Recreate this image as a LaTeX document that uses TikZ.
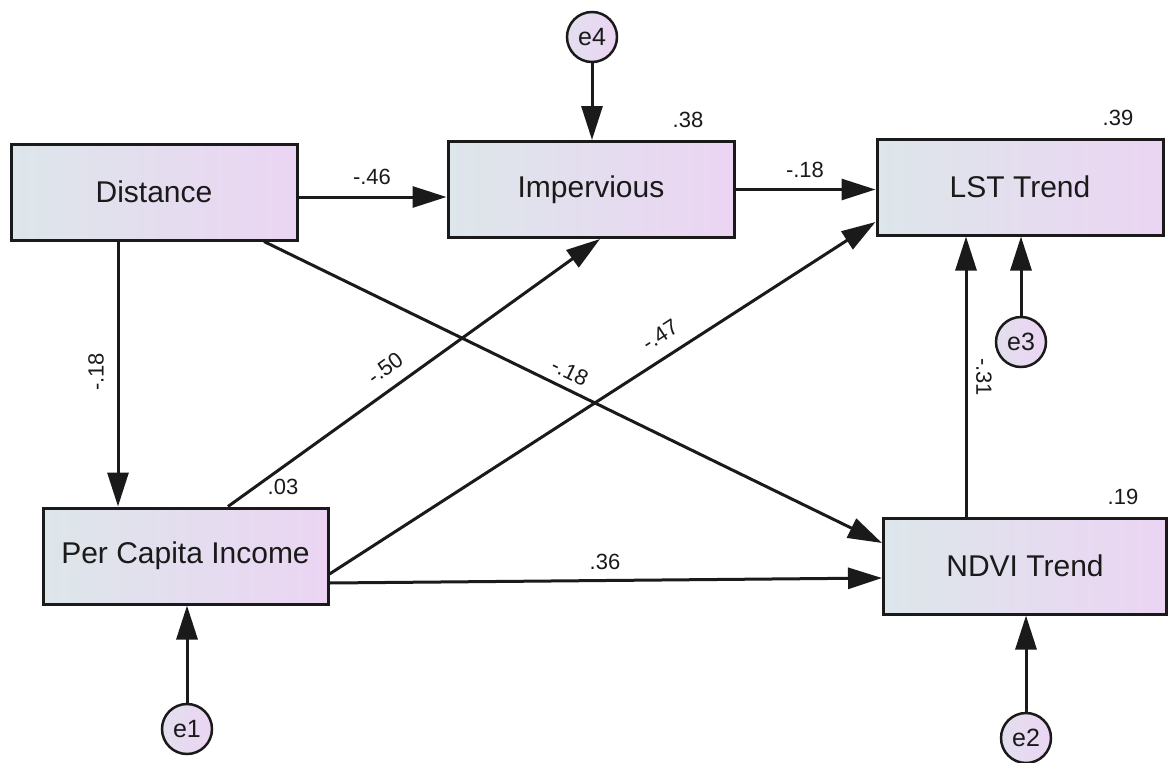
\documentclass[tikz,border=0pt]{standalone}
\usepackage{fontspec}
\setmainfont{Liberation Sans}
\usetikzlibrary{arrows.meta,calc}
\definecolor{gleft}{HTML}{DDE6EA}
\definecolor{gright}{HTML}{EBD5F3}
\definecolor{ink}{HTML}{1A1A1A}
\tikzset{
  varbox/.style={draw=ink, line width=3pt, left color=gleft, right color=gright,
    shading angle=90, minimum width=286pt, minimum height=96pt, inner sep=0pt,
    font=\fontsize{30}{36}\selectfont, text=ink},
  errc/.style={draw=ink, circle, line width=2.5pt, left color=gleft!60!gright, right color=gright,
    minimum size=50pt, inner sep=0pt, font=\fontsize{25}{30}\selectfont, text=ink},
  arr/.style={draw=ink, line width=3pt, -{Triangle[length=34pt,width=21pt]}},
  lbl/.style={font=\fontsize{22}{26}\selectfont, text=ink, inner sep=0pt},
}
\begin{document}
\begin{tikzpicture}[x=1pt,y=-1pt]
\path[use as bounding box] (0,0) rectangle (1168,763);
% variables
\node[varbox] (dist) at (154,192) {Distance};
\node[varbox] (imp) at (591,189.5) {Impervious};
\node[varbox] (lst) at (1020,187) {LST Trend};
\node[varbox, minimum width=285pt] (pci) at (185.5,556) {Per Capita Income};
\node[varbox, minimum width=283pt] (ndvi) at (1025,566) {NDVI Trend};
% errors
\node[errc] (e4) at (592,37) {e4};
\node[errc] (e3) at (1021,342) {e3};
\node[errc] (e1) at (187,729) {e1};
\node[errc] (e2) at (1026,738) {e2};
% connectors
\draw[arr] ([yshift=-5pt]dist.east) -- ([yshift=-5pt]dist.east -| imp.west);
\draw[arr] (imp.east) -- (imp.east -| lst.west);
\draw[arr] ([xshift=-36pt]dist.south) -- ([xshift=-36pt]dist.south |- pci.north);
\draw[arr] ([xshift=42.5pt]pci.north) -- ([xshift=9pt]imp.south);
\draw[arr] ([yshift=-18pt]pci.east) -- ([yshift=-35pt]lst.west);
\draw[arr] ([xshift=110pt]dist.south) -- ([yshift=23pt]ndvi.west);
\draw[arr] ([yshift=-27pt]pci.east) -- ([yshift=-12pt]ndvi.west);
\draw[arr] ([xshift=-59pt]ndvi.north) -- ([xshift=-59pt]ndvi.north |- lst.south);
\draw[arr] (e3.north) -- (e3.north |- lst.south);
\draw[arr] (e2.north) -- (e2.north |- ndvi.south);
\draw[arr] (e1.north) -- (e1.north |- pci.south);
\draw[arr] (e4.south) -- (e4.south |- imp.north);
% labels
\node[lbl] (l1) at (372,177) {-.46};
\node[lbl] (l2) at (805,170) {-.18};
\node[lbl] (r1) at (688,120) {.38};
\node[lbl] (r2) at (1118,118) {.39};
\node[lbl] (r3) at (283,487) {.03};
\node[lbl] (r4) at (1123,497) {.19};
\node[lbl] (l3) at (605,562) {.36};
\node[lbl, rotate=90] (l4) at (96,372) {-.18};
\node[lbl, rotate=36] (l5) at (385,368) {-.50};
\node[lbl, rotate=-26] (l6) at (570,372) {-.18};
\node[lbl, rotate=33] (l7) at (660,335) {-.47};
\node[lbl, rotate=-90] (l8) at (984,377) {-.31};
\end{tikzpicture}
\end{document}
